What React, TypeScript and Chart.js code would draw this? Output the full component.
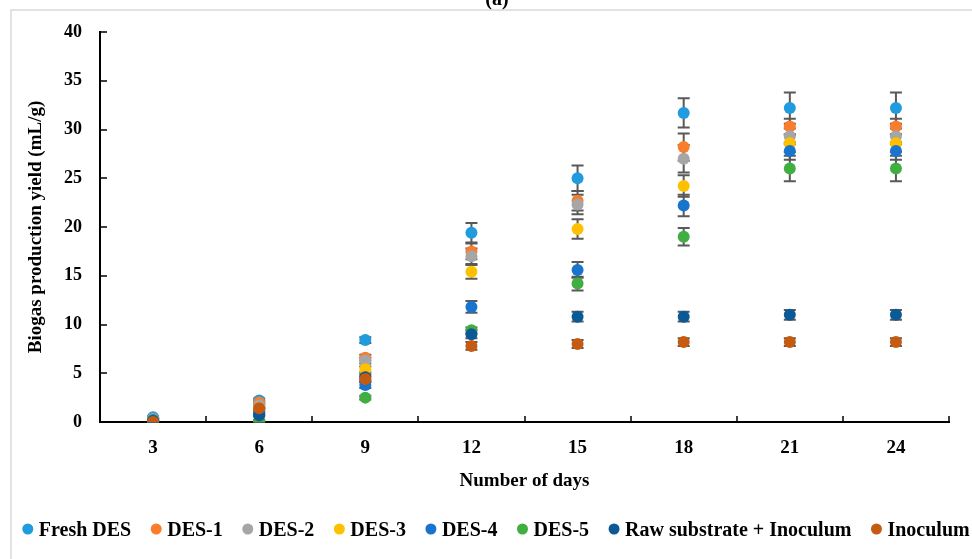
import React, { useEffect, useRef } from 'react';
import { Chart, registerables } from 'chart.js';

Chart.register(...registerables);

const days = ['3', '6', '9', '12', '15', '18', '21', '24'];
const seriesNames = ['Fresh DES', 'DES-1', 'DES-2', 'DES-3', 'DES-4', 'DES-5', 'Raw substrate + Inoculum', 'Inoculum'];
const seriesColors = ['#1F9BDE', '#FA7D2D', '#A6A6A6', '#FFC000', '#1874CD', '#40AE40', '#0B5A96', '#C55A11'];
const yTicks = [0, 5, 10, 15, 20, 25, 30, 35, 40];

const freshDES = [0.5, 2.2, 8.4, 19.4, 25.0, 31.7, 32.2, 32.2];
const des1 = [0.3, 2.0, 6.6, 17.5, 22.7, 28.2, 30.3, 30.3];
const des2 = [0.3, 1.7, 6.3, 17.0, 22.3, 27.0, 29.3, 29.3];
const des3 = [0.2, 1.4, 5.4, 15.4, 19.8, 24.2, 28.6, 28.6];
const des4 = [0.2, 1.0, 3.8, 11.8, 15.6, 22.2, 27.8, 27.8];
const des5 = [0.1, 0.1, 2.5, 9.4, 14.2, 19.0, 26.0, 26.0];
const rawInoc = [0.1, 0.7, 4.6, 9.0, 10.8, 10.8, 11.0, 11.0];
const inoculum = [0.0, 1.4, 4.4, 7.8, 8.0, 8.2, 8.2, 8.2];

const errFresh = [0.1, 0.2, 0.3, 1.0, 1.3, 1.5, 1.6, 1.6];
const errDes1 = [0.1, 0.2, 0.3, 0.8, 1.0, 1.4, 0.8, 0.8];
const errDes2 = [0.1, 0.2, 0.3, 0.8, 1.0, 1.4, 0.8, 0.8];
const errDes3 = [0.1, 0.1, 0.3, 0.7, 1.0, 1.1, 0.9, 0.9];
const errDes4 = [0.1, 0.1, 0.3, 0.6, 0.8, 1.1, 0.9, 0.9];
const errDes5 = [0.1, 0.1, 0.2, 0.3, 0.7, 0.9, 1.3, 1.3];
const errRaw = [0.1, 0.1, 0.3, 0.4, 0.5, 0.5, 0.5, 0.5];
const errInoc = [0.1, 0.1, 0.3, 0.4, 0.4, 0.4, 0.4, 0.4];

const seriesValues = [freshDES, des1, des2, des3, des4, des5, rawInoc, inoculum];
const seriesErrors = [errFresh, errDes1, errDes2, errDes3, errDes4, errDes5, errRaw, errInoc];

const FONT = '"Liberation Serif", "Times New Roman", serif';

const errorBarPlugin = {
  id: 'errorBars',
  beforeDatasetsDraw(chart: any) {
    const ctx = chart.ctx;
    const yScale = chart.scales.y;
    ctx.save();
    ctx.strokeStyle = '#595959';
    ctx.lineWidth = 2;
    chart.data.datasets.forEach((ds: any, i: number) => {
      const meta = chart.getDatasetMeta(i);
      const errs = seriesErrors[i];
      meta.data.forEach((pt: any, j: number) => {
        const v = ds.data[j];
        const e = errs[j];
        if (!e) return;
        const x = pt.x;
        const yTop = yScale.getPixelForValue(v + e);
        const yBot = yScale.getPixelForValue(Math.max(0, v - e));
        ctx.beginPath();
        ctx.moveTo(x, yTop);
        ctx.lineTo(x, yBot);
        ctx.moveTo(x - 6, yTop);
        ctx.lineTo(x + 6, yTop);
        ctx.moveTo(x - 6, yBot);
        ctx.lineTo(x + 6, yBot);
        ctx.stroke();
      });
    });
    ctx.restore();
  },
};

const decorPlugin = {
  id: 'decor',
  beforeDraw(chart: any) {
    const ctx = chart.ctx;
    ctx.save();
    ctx.fillStyle = '#ffffff';
    ctx.fillRect(0, 0, chart.width, chart.height);
    ctx.strokeStyle = '#D9D9D9';
    ctx.lineWidth = 1.5;
    ctx.strokeRect(11, 10, chart.width + 20, chart.height + 20);
    ctx.fillStyle = '#000';
    ctx.font = 'bold 20px ' + FONT;
    ctx.textAlign = 'center';
    ctx.textBaseline = 'alphabetic';
    ctx.fillText('(a)', 497, 5);
    ctx.restore();
  },
  afterDraw(chart: any) {
    const ctx = chart.ctx;
    const xs = chart.scales.x;
    const ys = chart.scales.y;
    const area = chart.chartArea;
    ctx.save();
    ctx.strokeStyle = '#000';
    ctx.lineWidth = 1.5;
    ctx.beginPath();
    ys.ticks.forEach((_t: any, i: number) => {
      const y = Math.round(ys.getPixelForTick(i));
      ctx.moveTo(area.left, y);
      ctx.lineTo(area.left + 7, y);
    });
    const n = xs.ticks.length;
    for (let i = 1; i <= n; i++) {
      const x = i < n ? (xs.getPixelForTick(i - 1) + xs.getPixelForTick(i)) / 2 : area.right;
      ctx.moveTo(Math.round(x), area.bottom);
      ctx.lineTo(Math.round(x), area.bottom - 6);
    }
    ctx.stroke();
    ctx.restore();

    ctx.save();
    ctx.font = 'bold 20px ' + FONT;
    ctx.textBaseline = 'alphabetic';
    ctx.textAlign = 'left';
    const r = 5.5;
    const textGap = 11;
    const itemGap = 19.5;
    const items = chart.data.datasets.map((ds: any) => ({
      label: ds.label,
      color: ds.backgroundColor,
      w: ctx.measureText(ds.label).width,
    }));
    let total = 0;
    items.forEach((it: any, i: number) => {
      total += r + textGap + it.w;
      if (i < items.length - 1) total += itemGap;
    });
    let x = 496 - total / 2;
    const cy = 529;
    items.forEach((it: any) => {
      ctx.fillStyle = it.color;
      ctx.beginPath();
      ctx.arc(x + r, cy, r, 0, Math.PI * 2);
      ctx.fill();
      ctx.fillStyle = '#000';
      ctx.fillText(it.label, x + r + textGap, 536);
      x += r + textGap + it.w + itemGap;
    });
    ctx.restore();
  },
};

export default function App() {
  const ref = useRef<HTMLCanvasElement>(null);
  useEffect(() => {
    if (!ref.current) return;
    const datasets = seriesNames.map((name, i) => ({
      label: name,
      data: seriesValues[i],
      backgroundColor: seriesColors[i],
      borderColor: seriesColors[i],
      pointRadius: 6,
      pointBorderWidth: 0,
      showLine: false,
      order: seriesNames.length - i,
    }));
    const chart = new Chart(ref.current, {
      type: 'line',
      data: { labels: days, datasets },
      plugins: [errorBarPlugin, decorPlugin],
      options: {
        responsive: false,
        animation: false,
        layout: { padding: { left: 0, right: 23, top: 32, bottom: 62 } },
        plugins: {
          legend: { display: false },
          tooltip: { enabled: false },
          title: { display: false },
        },
        scales: {
          x: {
            type: 'category',
            offset: true,
            grid: { display: false, drawTicks: false },
            border: { display: true, color: '#000', width: 2 },
            ticks: {
              color: '#000',
              font: { family: FONT, size: 19, weight: 'bold' },
              padding: 15,
              maxRotation: 0,
            },
            title: {
              display: true,
              text: 'Number of days',
              color: '#000',
              font: { family: FONT, size: 19, weight: 'bold' },
              padding: { top: 0, bottom: 5 },
            },
            afterFit: (s: any) => {
              s.height = 75;
            },
          },
          y: {
            min: 0,
            max: 40,
            grid: { display: false, drawTicks: false },
            border: { display: true, color: '#000', width: 2 },
            afterBuildTicks: (s: any) => {
              s.ticks = yTicks.map((v) => ({ value: v }));
            },
            ticks: {
              color: '#000',
              font: { family: FONT, size: 18, weight: 'bold' },
              padding: 18,
            },
            title: {
              display: true,
              text: 'Biogas production yield (mL/g)',
              color: '#000',
              font: { family: FONT, size: 19, weight: 'bold' },
              padding: { top: 25, bottom: 0 },
            },
            afterFit: (s: any) => {
              s.width = 100;
            },
          },
        },
      },
    });
    return () => chart.destroy();
  }, []);
  return (
    <div style={{ position: 'fixed', left: 0, top: 0, width: 972, height: 559, background: '#fff' }}>
      <canvas ref={ref} width={972} height={559} style={{ display: 'block', width: 972, height: 559 }} />
    </div>
  );
}
